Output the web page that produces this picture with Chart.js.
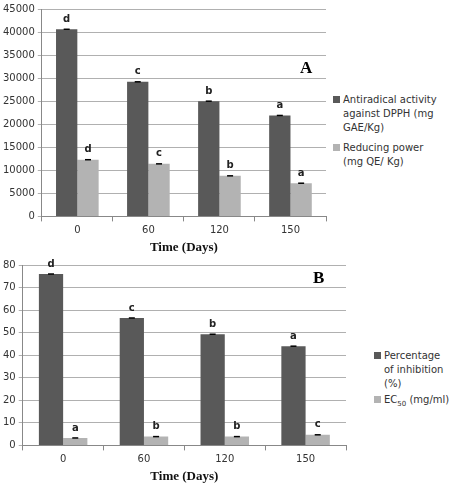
<!DOCTYPE html>
<html><head><meta charset="utf-8">
<script src="https://cdn.jsdelivr.net/npm/chart.js@4"></script>
<style>
body{margin:0;background:#fff;width:450px;height:488px;position:relative;font-family:"DejaVu Sans",sans-serif;overflow:hidden}
.c{position:absolute}
.leg{position:absolute;font-size:10px;color:#333;line-height:14px}
.leg div{position:relative;padding-left:10px}
.leg span{position:absolute;left:0;top:3px;width:7px;height:7px}
.big{position:absolute;font:bold 17px "Liberation Serif",serif}
</style></head><body>
<div class="c" style="left:0;top:0;width:330px;height:259px"><canvas id="a"></canvas></div>
<div class="c" style="left:0;top:256px;width:350px;height:232px"><canvas id="b"></canvas></div>
<div class="big" style="left:300px;top:58px">A</div>
<div class="big" style="left:313px;top:268px">B</div>
<div class="leg" style="left:333px;top:93px;width:117px">
<div><span style="background:#595959"></span>Antiradical activity against DPPH (mg GAE/Kg)</div>
<div style="margin-top:6px"><span style="background:#b3b3b3"></span>Reducing power<br>(mg QE/ Kg)</div></div>
<div class="leg" style="left:374px;top:349px;width:76px">
<div><span style="background:#595959"></span>Percentage of inhibition (%)</div>
<div style="margin-top:2px"><span style="background:#b3b3b3"></span>EC<sub style="font-size:7px">50</sub> (mg/ml)</div></div>
<script>
const days=['0','60','120','150'];
const dpph=[40600,29200,25000,21900];
const reducing=[12300,11400,8800,7200];
const dpphLetters=['d','c','b','a'];
const reducingLetters=['d','c','b','a'];
const inhibition=[76,56.5,49.3,44];
const ec50=[3.3,3.9,3.9,4.7];
const inhibitionLetters=['d','c','b','a'];
const ec50Letters=['a','b','b','c'];

const letters={id:'letters',afterDatasetsDraw(ch){const c=ch.ctx;c.save();
 ch.data.datasets.forEach((ds,i)=>{ch.getDatasetMeta(i).data.forEach((b,j)=>{
  c.strokeStyle='#000';c.lineWidth=1.5;c.beginPath();c.moveTo(b.x-3,b.y);c.lineTo(b.x+3,b.y);c.stroke();
  c.fillStyle='#222';c.font='bold 10px "DejaVu Sans"';c.textAlign='center';c.textBaseline='bottom';
  c.fillText(ds.letters[j],b.x,b.y-5);});});c.restore();}};
function mk(id,d1,d2,l1,l2,max,step){
 new Chart(document.getElementById(id),{type:'bar',plugins:[letters],
 data:{labels:days,datasets:[
  {data:d1,backgroundColor:'#595959',letters:l1,categoryPercentage:0.6,barPercentage:1},
  {data:d2,backgroundColor:'#b3b3b3',letters:l2,categoryPercentage:0.6,barPercentage:1}]},
 options:{responsive:true,maintainAspectRatio:false,animation:false,
  layout:{padding:{top:6,right:4}},
  plugins:{legend:{display:false},tooltip:{enabled:false}},
  scales:{
   x:{grid:{drawOnChartArea:false,color:'#888',tickLength:5},border:{color:'#888'},
      ticks:{color:'#333',font:{size:10,family:'DejaVu Sans'}},
      title:{display:true,text:'Time (Days)',color:'#111',padding:{top:0},font:{size:13,weight:'bold',family:'Liberation Serif'}}},
   y:{min:0,max:max,ticks:{stepSize:step,color:'#333',font:{size:10,family:'DejaVu Sans'},callback:v=>String(v)},
      grid:{color:'#b0b0b0',tickLength:4},border:{color:'#888'}}}}});
}
mk('a',dpph,reducing,dpphLetters,reducingLetters,45000,5000);
mk('b',inhibition,ec50,inhibitionLetters,ec50Letters,80,10);
</script></body></html>
